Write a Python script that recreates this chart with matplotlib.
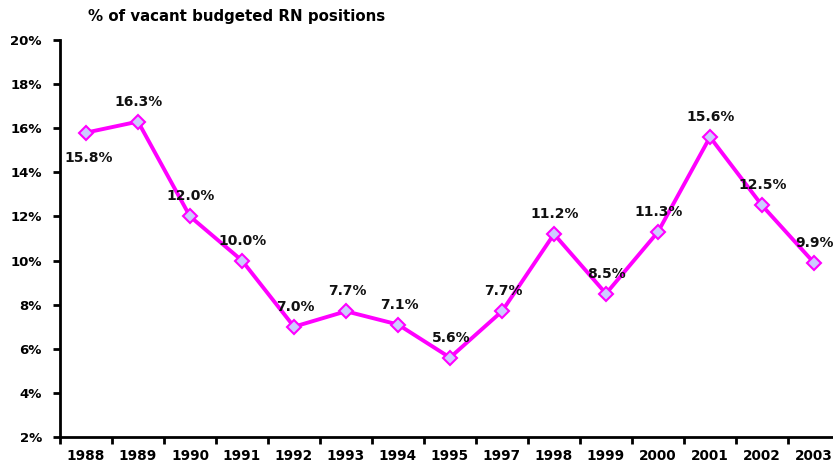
import matplotlib
matplotlib.use("Agg")
import matplotlib.pyplot as plt
import numpy as np

years = ["1988", "1989", "1990", "1991", "1992", "1993", "1994", "1995",
         "1997", "1998", "1999", "2000", "2001", "2002", "2003"]
values = [15.8, 16.3, 12.0, 10.0, 7.0, 7.7, 7.1, 5.6, 7.7, 11.2, 8.5, 11.3, 15.6, 12.5, 9.9]
yticks = [2, 4, 6, 8, 10, 12, 14, 16, 18, 20]
title = "% of vacant budgeted RN positions"

plt.rcParams['font.family'] = ['DejaVu Sans']
fig = plt.figure(figsize=(8.33, 4.66), dpi=100)
ax = fig.add_axes([60/833, 1 - 437/466, 780/833, (437 - 40)/466])

x = np.arange(len(years))
ax.plot(x, values, color='#FF00FF', lw=2.8, marker='D', markersize=7,
        markerfacecolor='#CCCCFF', markeredgecolor='#FF00FF', markeredgewidth=1.5,
        zorder=3, clip_on=False)

for i, v in enumerate(values):
    if i == 0:
        ax.annotate(f"{v:.1f}%", (i, v), xytext=(3, -25), textcoords='offset pixels',
                    ha='center', va='center', fontsize=10, fontweight='bold', color='#111111')
    else:
        ax.annotate(f"{v:.1f}%", (i, v), xytext=(1, 20), textcoords='offset pixels',
                    ha='center', va='center', fontsize=10, fontweight='bold', color='#111111')

ax.set_xlim(-0.5, len(years) - 0.5)
ax.set_ylim(2, 20)
ax.set_yticks(yticks)
ax.set_yticklabels([f"{t}%" for t in yticks], fontsize=9.5, fontweight='bold')
ax.set_xticks(np.arange(len(years) + 1) - 0.5)
ax.set_xticklabels([])
ax.set_xticks(x, minor=True)
ax.set_xticklabels(years, minor=True, fontsize=9.8, fontweight='bold')
ax.tick_params(axis='x', which='minor', length=0, pad=9)
ax.tick_params(axis='x', which='major', length=5, width=2, direction='out')
ax.tick_params(axis='y', length=5, width=2, direction='out', pad=8)
for s in ['top', 'right']:
    ax.spines[s].set_visible(False)
for s in ['left', 'bottom']:
    ax.spines[s].set_linewidth(2)

fig.text(88/833, 1 - 17/466, title, ha='left', va='center', fontsize=10.8, fontweight='bold')

fig.savefig("out.png", dpi=100)
